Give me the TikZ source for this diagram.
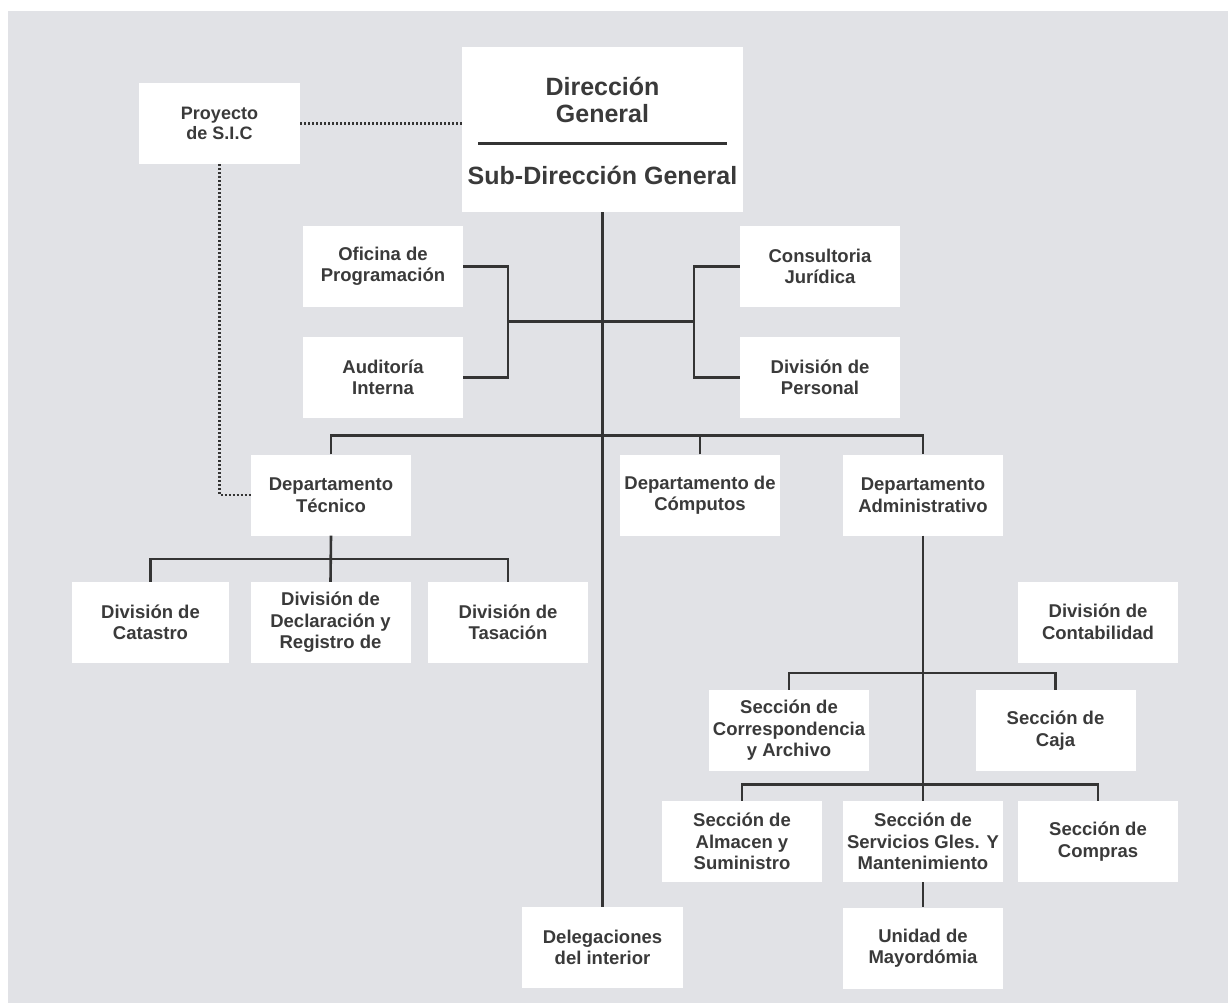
\documentclass[tikz,border=0pt]{standalone}
\usepackage{fontspec}
\setmainfont{Liberation Sans}
\usetikzlibrary{positioning,calc}
\definecolor{bggray}{HTML}{E1E2E6}
\definecolor{inkgray}{HTML}{3A3A3A}
\definecolor{wiregray}{HTML}{343434}
\tikzset{
  % --- boxes -----------------------------------------------------------
  unitbox/.style ={fill=white, align=center, inner sep=0pt,
                   minimum width=160pt, minimum height=81pt, text=inkgray,
                   font=\fontsize{18.5}{21.5}\selectfont\bfseries},
  smallbox/.style={unitbox, minimum width=161pt,
                   font=\fontsize{18}{20}\selectfont\bfseries},
  headbox/.style ={unitbox, minimum width=281pt, minimum height=165pt},
  headtxt/.style ={align=center, inner sep=0pt, text=inkgray,
                   font=\fontsize{25}{27}\selectfont\bfseries},
  % --- connectors ------------------------------------------------------
  link/.style    ={draw=wiregray, line width=2.6pt},
  dotlink/.style ={draw=wiregray, line width=2.4pt, dash pattern=on 1.8pt off 2.2pt},
  divider/.style ={draw=wiregray, line width=3pt},
}

\begin{document}
\begin{tikzpicture}[x=1pt, y=-1pt]

  % ============================ canvas ============================
  \useasboundingbox (0,0) rectangle (1228,1003);
  \fill[bggray] (8,11) rectangle (1228,1003);

  % ============================ top level ============================
  \node[headbox] (dir) at (602.5,129.5) {};
  \node[headtxt] (dirtop) at (602.5,100) {Dirección\\General};
  \node[headtxt] (dirsub) at (602.5,175) {Sub-Dirección General};
  \coordinate (dvl) at (478,144);
  \coordinate (dvr) at (727,144);
  \draw[divider] (dvl) -- (dvr);

  \node[smallbox] (proy) at (219.5,123.5) {Proyecto\\de S.I.C};

  % ============================ staff units ============================
  \node[unitbox] (ofi)  at (383,266.5) {Oficina de\\Programación};
  \node[unitbox] (aud)  at (383,377.5) {Auditoría\\Interna};
  \node[unitbox] (cons) at (820,266.5) {Consultoria\\Jurídica};
  \node[unitbox] (pers) at (820,377.5) {División de\\Personal};

  % ============================ departments ============================
  \node[unitbox] (tec)  at (331,495) {Departamento\\Técnico};
  \node[unitbox] (comp) at (700,495) {Departamento de\\Cómputos};
  \node[unitbox] (adm)  at (923,495) {Departamento\\Administrativo};

  % ============================ divisions (técnico) ============================
  \node[unitbox, minimum width=157pt] (cat) at (150.5,622.5) {División de\\Catastro};
  \node[unitbox] (decl) at (330.5,622.5) {División de\\Declaración y\\Registro de};
  \node[unitbox] (tas)  at (508,622.5) {División de\\Tasación};

  % ============================ administrativo ============================
  \node[unitbox] (cont)  at (1098,622) {División de\\Contabilidad};
  \node[unitbox] (corr)  at (789,730.5) {Sección de\\Correspondencia\\y Archivo};
  \node[unitbox] (caja)  at (1055.5,730.5) {Sección de\\Caja};
  \node[unitbox] (alm)   at (742,841.5) {Sección de\\Almacen y\\Suministro};
  \node[unitbox] (serv)  at (923,841.5) {Sección de\\Servicios Gles. Y\\Mantenimiento};
  \node[unitbox] (compr) at (1098,841.5) {Sección de\\Compras};
  \node[unitbox] (may)   at (923,948) {Unidad de\\Mayordómia};
  \node[unitbox, minimum width=161pt] (del) at (602.5,947.5) {Delegaciones\\del interior};

  % ============================ junctions ============================
  \coordinate (lbar) at (508,321.5);
  \coordinate (rbar) at (694,321.5);
  \coordinate (dbar) at (602.5,435.5);
  \coordinate (tbar) at (330.5,559);
  \coordinate (abar) at (923,673);
  \coordinate (sbar) at (923,784.5);

  % ============================ main trunk + staff ============================
  \draw[link] (dir.south) -- (del.north);
  \draw[link] (ofi.east) -| (lbar) |- (aud.east);
  \draw[link] (cons.west) -| (rbar) |- (pers.west);
  \draw[link] (lbar) -- (rbar);

  % ============================ departments ============================
  \draw[link] (tec.north) |- (dbar) -| (adm.north);
  \draw[link] (comp.north) -- (comp.north |- dbar);

  \draw[link] (tec.south) -- (decl.north);
  \draw[link] (cat.north) |- (tbar) -| (tas.north);

  % ============================ administrativo ============================
  \draw[link] (adm.south) -- (serv.north);
  \draw[link] (corr.north) |- (abar) -| (caja.north);
  \draw[link] (alm.north) |- (sbar) -| (compr.north);
  \draw[link] (serv.south) -- (may.north);

  % ============================ dotted links ============================
  \draw[dotlink] (proy.east) -- (proy.east -| dir.west);
  \draw[dotlink] (proy.south) |- (tec.west);

\end{tikzpicture}
\end{document}
